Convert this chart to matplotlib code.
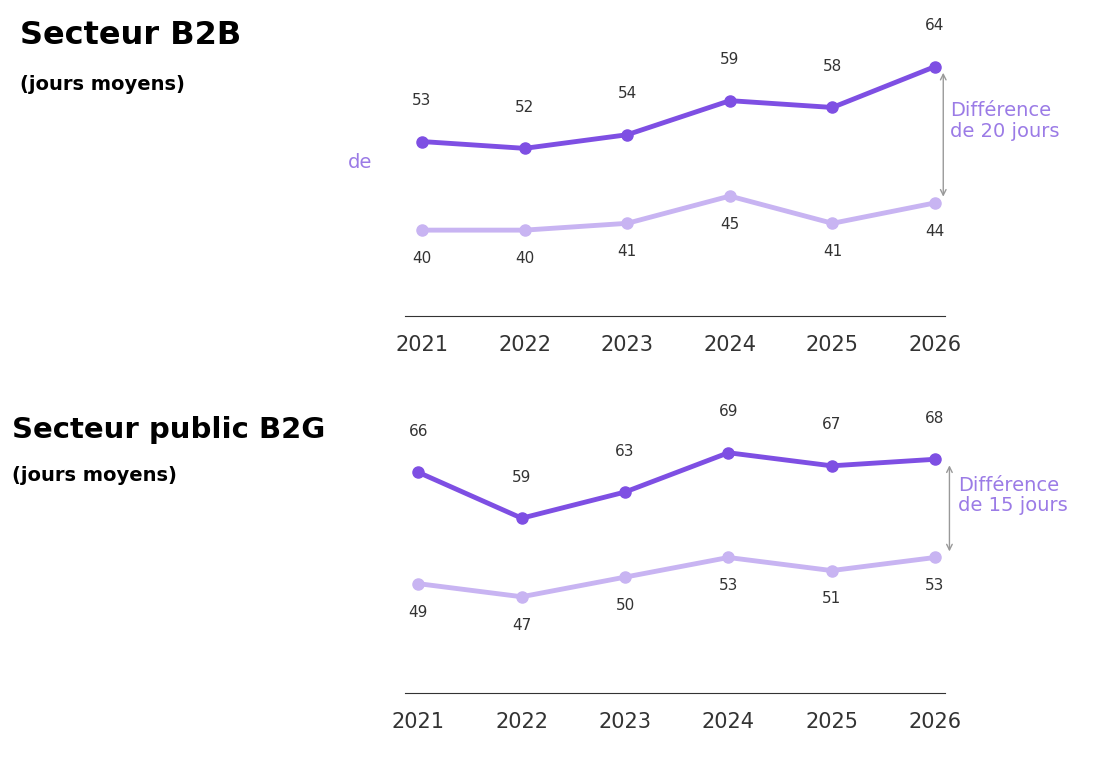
import matplotlib.pyplot as plt

years = [2021, 2022, 2023, 2024, 2025, 2026]
b2b_high = [53, 52, 54, 59, 58, 64]
b2b_low = [40, 40, 41, 45, 41, 44]
b2g_high = [66, 59, 63, 69, 67, 68]
b2g_low = [49, 47, 50, 53, 51, 53]

DARK = '#7E4FE3'
LIGHT = '#C8B4F2'
TXT = '#9B7BE6'
W, H = 1110, 760


def axes_px(fig, left, top, right, bottom):
    return fig.add_axes([left / W, 1 - bottom / H, (right - left) / W, (bottom - top) / H])


def panel(ax, high, low, xlim, ylim, diff_text, arrow_x, diff_x):
    ax.plot(years, high, color=DARK, lw=3.5, marker='o', ms=8, zorder=3)
    ax.plot(years, low, color=LIGHT, lw=3.5, marker='o', ms=8, zorder=3)
    for x, v in zip(years, high):
        ax.annotate(str(v), (x, v), xytext=(0, 24), textcoords='offset points',
                    ha='center', va='bottom', fontsize=11, color='#333333')
    for x, v in zip(years, low):
        ax.annotate(str(v), (x, v), xytext=(0, -15), textcoords='offset points',
                    ha='center', va='top', fontsize=11, color='#333333')
    ax.set_xlim(*xlim)
    ax.set_ylim(*ylim)
    for s in ['top', 'right', 'left']:
        ax.spines[s].set_visible(False)
    ax.spines['bottom'].set_color('#333333')
    ax.set_yticks([])
    ax.set_xticks(years)
    ax.set_xticklabels([str(y) for y in years], fontsize=15, color='#333333')
    ax.tick_params(axis='x', length=0, pad=14)
    ax.annotate('', xy=(arrow_x, high[-1] - 0.5), xytext=(arrow_x, low[-1] + 0.5),
                arrowprops=dict(arrowstyle='<->', color='#999999', lw=1),
                annotation_clip=False)
    ax.text(diff_x, (high[-1] + low[-1]) / 2 + 2, diff_text, color=TXT, fontsize=14,
            ha='left', va='center', linespacing=1.1, clip_on=False)


fig = plt.figure(figsize=(W / 100, H / 100), dpi=100)

ax1 = axes_px(fig, 405, 40, 945, 316)
panel(ax1, b2b_high, b2b_low, (2020.834, 2026.097), (27.4, 67.9),
      'Différence\nde 20 jours', 2026.08, 2026.15)
ax2 = axes_px(fig, 405, 420, 945, 693)
panel(ax2, b2g_high, b2g_low, (2020.87, 2026.097), (32.3, 74.0),
      'Différence\nde 15 jours', 2026.14, 2026.22)

fig.text(20 / W, 1 - 36 / H, 'Secteur B2B', fontsize=23, fontweight='bold', va='center')
fig.text(20 / W, 1 - 84 / H, '(jours moyens)', fontsize=14, fontweight='bold', va='center')
fig.text(12 / W, 1 - 430 / H, 'Secteur public B2G', fontsize=21, fontweight='bold', va='center')
fig.text(12 / W, 1 - 476 / H, '(jours moyens)', fontsize=14, fontweight='bold', va='center')
fig.text(348 / W, 1 - 163 / H, 'de', fontsize=14, color=TXT, va='center')

fig.savefig('out.png', dpi=100)
